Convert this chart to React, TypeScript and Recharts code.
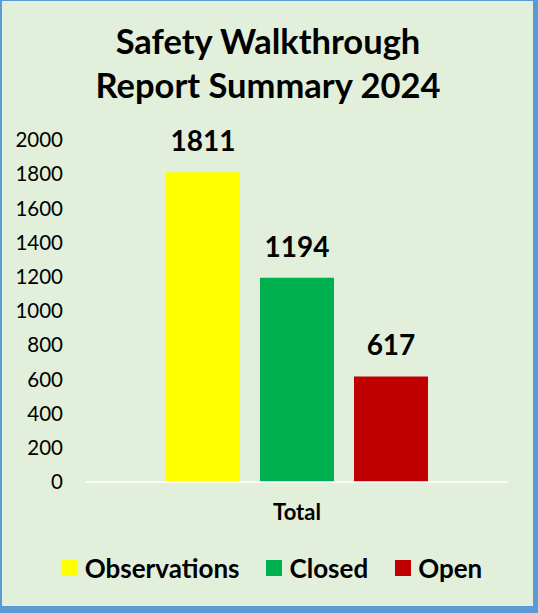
import React from "react";
import {
  BarChart,
  Bar,
  XAxis,
  YAxis,
  Legend,
  LabelList,
} from "recharts";

const categories = ["Total"];
const observations = [1811];
const closed = [1194];
const open = [617];
const yTicks = [0, 200, 400, 600, 800, 1000, 1200, 1400, 1600, 1800, 2000];

const seriesNames = ["Observations", "Closed", "Open"];
const seriesColors = ["#FFFF00", "#00B050", "#C00000"];

const data = categories.map((name, i) => ({
  name,
  observations: observations[i],
  closed: closed[i],
  open: open[i],
}));

const FONT = "Lato, 'Open Sans', sans-serif";

function LegendBox({ payload }: any) {
  if (!payload) return null;
  const items = [...payload].sort(
    (a: any, b: any) => seriesNames.indexOf(a.value) - seriesNames.indexOf(b.value)
  );
  return (
    <div
      style={{
        display: "flex",
        justifyContent: "center",
        alignItems: "center",
        gap: 27,
        height: 30,
        fontFamily: FONT,
        fontWeight: 700,
        fontSize: 26,
        color: "#000",
      }}
    >
      {items.map((entry: any) => (
        <div key={entry.value} style={{ display: "flex", alignItems: "center" }}>
          <span
            style={{
              display: "inline-block",
              width: 16,
              height: 16,
              background: entry.color,
              marginRight: 7,
            }}
          />
          <span>{entry.value}</span>
        </div>
      ))}
    </div>
  );
}

const labelStyle = { fill: "#000", fontSize: 28, fontWeight: 700, fontFamily: FONT };

export default function App() {
  return (
    <div
      style={{
        position: "absolute",
        left: 0,
        top: 0,
        width: 538,
        height: 613,
        background: "#5B9BD5",
      }}
    >
      <div
        style={{
          position: "absolute",
          left: 2,
          top: 1,
          width: 531,
          height: 605,
          background: "#E2EFDA",
        }}
      />
      <div
        style={{
          position: "absolute",
          left: 0,
          top: 19,
          width: 536,
          textAlign: "center",
          fontFamily: FONT,
          fontWeight: 700,
          fontSize: 34.5,
          lineHeight: "44px",
          color: "#000",
        }}
      >
        Safety Walkthrough
        <br />
        Report Summary 2024
      </div>
      <div style={{ position: "absolute", left: 0, top: 0 }}>
        <BarChart
          width={538}
          height={613}
          data={data}
          margin={{ top: 140, right: 30, bottom: 30, left: 0 }}
          barSize={74}
          barGap={20}
        >
          <XAxis
            dataKey="name"
            height={71}
            tickSize={0}
            tickMargin={22}
            axisLine={{ stroke: "#FFFFFF", strokeWidth: 1.5 }}
            tick={{ fill: "#000", fontSize: 22, fontWeight: 700, fontFamily: FONT }}
          />
          <YAxis
            width={86}
            domain={[0, 2000]}
            ticks={yTicks}
            interval={0}
            tickSize={0}
            tickMargin={23}
            axisLine={false}
            tick={{ fill: "#000", fontSize: 20.5, fontFamily: FONT }}
          />
          <Legend
            verticalAlign="bottom"
            height={30}
            wrapperStyle={{ left: 18 }}
            content={<LegendBox />}
          />
          <Bar
            dataKey="observations"
            name={seriesNames[0]}
            fill={seriesColors[0]}
            isAnimationActive={false}
          >
            <LabelList dataKey="observations" position="top" offset={21} style={labelStyle} />
          </Bar>
          <Bar
            dataKey="closed"
            name={seriesNames[1]}
            fill={seriesColors[1]}
            isAnimationActive={false}
          >
            <LabelList dataKey="closed" position="top" offset={21} style={labelStyle} />
          </Bar>
          <Bar
            dataKey="open"
            name={seriesNames[2]}
            fill={seriesColors[2]}
            isAnimationActive={false}
          >
            <LabelList dataKey="open" position="top" offset={21} style={labelStyle} />
          </Bar>
        </BarChart>
      </div>
    </div>
  );
}
